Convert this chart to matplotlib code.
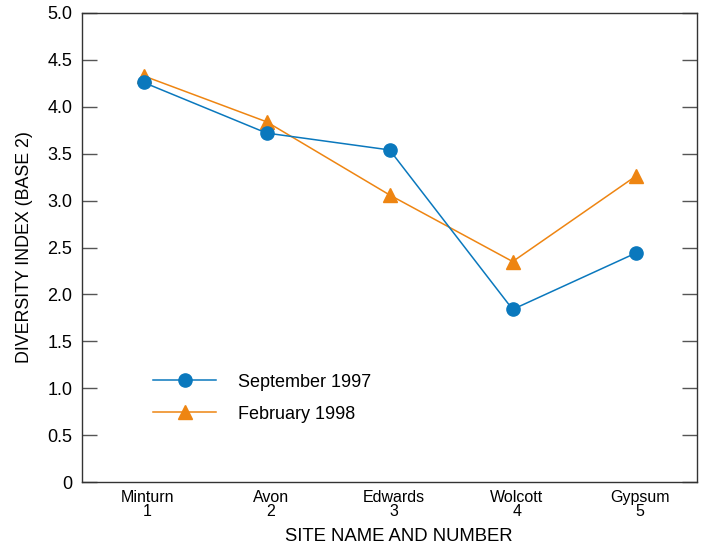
import matplotlib
matplotlib.use("Agg")
import matplotlib.pyplot as plt
import matplotlib.transforms as mtransforms

plt.rcParams['font.family'] = ['Liberation Sans', 'DejaVu Sans']

# Datos
sitios = ["Minturn", "Avon", "Edwards", "Wolcott", "Gypsum"]
numeros = [1, 2, 3, 4, 5]
sep_1997 = [4.26, 3.72, 3.54, 1.84, 2.44]
feb_1998 = [4.33, 3.84, 3.06, 2.35, 3.26]
yticks = [0, 0.5, 1.0, 1.5, 2.0, 2.5, 3.0, 3.5, 4.0, 4.5, 5.0]
ytick_labels = ["0", "0.5", "1.0", "1.5", "2.0", "2.5", "3.0", "3.5", "4.0", "4.5", "5.0"]

azul = "#0a78bd"
naranja = "#ee8512"

fig = plt.figure(figsize=(7.09, 5.46), dpi=100)
ax = fig.add_axes([0.1157, 0.1172, 0.8677, 0.8590])

ax.plot(numeros, sep_1997, color=azul, lw=1.1, marker='o', markersize=9.5,
        label="September 1997", zorder=3)
ax.plot(numeros, feb_1998, color=naranja, lw=1.1, marker='^', markersize=10.5,
        label="February 1998", zorder=2)

ax.set_xlim(0.5, 5.5)
ax.set_ylim(0, 5.0)
ax.set_yticks(yticks)
ax.set_yticklabels(ytick_labels, fontsize=13)
ax.set_xticks(numeros)
ax.set_xticklabels([f"{s}\n{n}" for s, n in zip(sitios, numeros)], fontsize=11.5,
                   linespacing=0.9)
ax.tick_params(axis='x', length=0, pad=6)
ax.tick_params(axis='y', direction='in', length=11, width=1.0, color='#555555',
               right=True, pad=7)

# las etiquetas de sitio estan un poco corridas a la derecha en el original
desplaza = mtransforms.ScaledTranslation(4 / 100, 0, fig.dpi_scale_trans)
for lbl in ax.get_xticklabels():
    lbl.set_transform(lbl.get_transform() + desplaza)

for sp in ax.spines.values():
    sp.set_linewidth(1.0)
    sp.set_color('#333333')

ax.set_xlabel("SITE NAME AND NUMBER", fontsize=13.3, labelpad=6.5)
ax.xaxis.label.set_x(0.5 + 9 / 615)
ax.set_ylabel("DIVERSITY INDEX (BASE 2)", fontsize=12.8, labelpad=10.5)

ax.legend(loc='center left', bbox_to_anchor=(0.1010, 0.179), frameon=False,
          fontsize=13, handlelength=3.5, handletextpad=1.17, borderpad=0,
          labelspacing=0.83)

fig.savefig("out.png", dpi=100)
